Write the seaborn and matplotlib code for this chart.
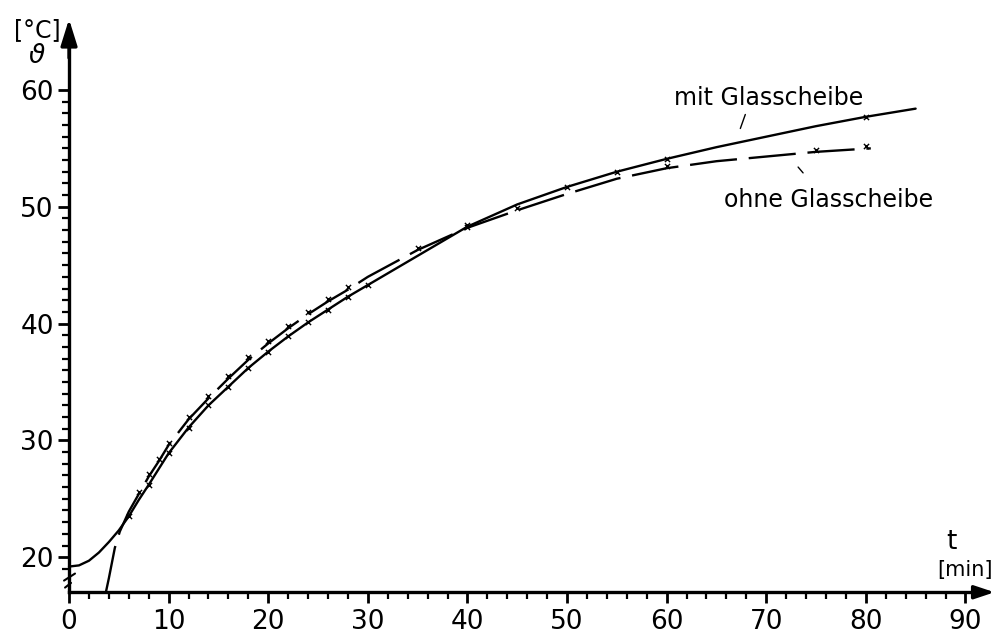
import numpy as np
import pandas as pd
import matplotlib
matplotlib.use("Agg")
import matplotlib.pyplot as plt
import seaborn as sns

# Temperaturverlauf
t_mit = [0, 1, 2, 3, 4, 5, 6, 7, 8, 10, 12, 14, 16, 18, 20, 22, 24, 26, 28,
         30, 35, 40, 45, 50, 55, 60, 65, 70, 75, 80, 85]
temp_mit = [19.2, 19.3, 19.7, 20.4, 21.3, 22.3, 23.5, 24.9, 26.2, 28.9, 31.1,
            33.0, 34.6, 36.2, 37.6, 38.9, 40.1, 41.2, 42.3, 43.3, 45.8, 48.3,
            50.2, 51.7, 53.0, 54.1, 55.1, 56.0, 56.9, 57.7, 58.4]

t_ohne = [3.7, 4.0, 4.3, 4.6, 5.1, 6, 7, 8, 9, 10, 12, 14, 16, 18, 20, 22, 24,
          26, 28, 30, 35, 40, 45, 50, 55, 60, 65, 70, 75, 80.5]
temp_ohne = [17.0, 18.2, 19.5, 20.8, 22.2, 23.9, 25.4, 26.9, 28.2, 29.6, 31.8,
             33.6, 35.3, 36.9, 38.3, 39.6, 40.8, 41.9, 42.9, 44.0, 46.3, 48.2,
             49.7, 51.1, 52.4, 53.3, 53.9, 54.3, 54.7, 55.0]

# Messpunkte (kleine Kreuze)
mess_t_mit = [6, 8, 10, 12, 14, 16, 18, 20, 22, 24, 26, 28, 30, 40, 50, 55, 60, 80]
mess_mit = [23.5, 26.2, 28.9, 31.1, 33.0, 34.6, 36.2, 37.6, 38.9, 40.1, 41.2,
            42.3, 43.3, 48.3, 51.7, 53.0, 54.1, 57.7]
mess_t_ohne = [7, 8, 9, 10, 12, 14, 16, 18, 20, 22, 24, 26, 28, 35, 40, 45, 60, 75, 80]
mess_ohne = [25.6, 27.1, 28.4, 29.8, 32.0, 33.8, 35.5, 37.1, 38.5, 39.8, 41.0,
             42.1, 43.1, 46.5, 48.4, 49.9, 53.5, 54.9, 55.2]

sns.set_style("white")
plt.rcParams['font.family'] = ['DejaVu Sans']
plt.rcParams['text.color'] = 'black'
plt.rcParams['xtick.color'] = 'black'
plt.rcParams['ytick.color'] = 'black'

fig = plt.figure(figsize=(9.97, 6.37), dpi=100)
ax = fig.add_axes([0, 0, 1, 1])
ax.set_xlim(-6.93, 93.17)
ax.set_ylim(13.17, 67.7)

df_mit = pd.DataFrame({'t': t_mit, 'T': temp_mit})
df_ohne = pd.DataFrame({'t': t_ohne, 'T': temp_ohne})
sns.lineplot(data=df_mit, x='t', y='T', ax=ax, color='black', lw=1.7, sort=False)
sns.lineplot(data=df_ohne, x='t', y='T', ax=ax, color='black', lw=1.7,
             sort=False, dashes=False, linestyle=(0, (20, 5)))
sns.scatterplot(x=mess_t_mit, y=mess_mit, ax=ax, marker='x', s=14, color='black', linewidth=1)
sns.scatterplot(x=mess_t_ohne, y=mess_ohne, ax=ax, marker='x', s=14, color='black', linewidth=1)

# Achsen
for s in ['top', 'right']:
    ax.spines[s].set_visible(False)
ax.spines['left'].set_position(('data', 0))
ax.spines['bottom'].set_position(('data', 17))
ax.spines['left'].set_bounds(17, 64)
ax.spines['bottom'].set_bounds(0, 91)
for s in ['left', 'bottom']:
    ax.spines[s].set_linewidth(2.4)
    ax.spines[s].set_color('black')
ax.annotate('', xy=(0, 66.3), xytext=(0, 62.5),
            arrowprops=dict(arrowstyle='-|>,head_length=1.6,head_width=0.5', color='black', lw=2.4))
ax.annotate('', xy=(93.2, 17), xytext=(90.5, 17),
            arrowprops=dict(arrowstyle='-|>,head_length=1.2,head_width=0.4', color='black', lw=2.4))

ax.set_xticks(np.arange(0, 91, 10))
ax.set_xticks(np.arange(0, 91, 2), minor=True)
ax.set_yticks([20, 30, 40, 50, 60])
ax.set_yticks(np.arange(19, 61, 1), minor=True)
ax.tick_params(axis='both', which='both', bottom=True, left=True, top=False, right=False)
ax.tick_params(axis='both', which='major', direction='out', length=8, width=2,
               labelsize=19, color='black', labelcolor='black')
ax.tick_params(axis='both', which='minor', direction='out', length=5, width=1.6, color='black')
ax.tick_params(axis='x', which='major', pad=4)
ax.tick_params(axis='y', which='major', pad=3)
ax.set_xlabel('')
ax.set_ylabel('')

# Achsenbruch
ax.plot([-0.5, 0.6], [18.0, 18.6], color='black', lw=1.5, clip_on=False)
ax.plot([-0.4, 0.2], [17.4, 17.8], color='black', lw=1.5, clip_on=False)

# Beschriftungen
ax.text(-3.2, 65.1, '[°C]', fontsize=17, ha='center', va='center')
ax.text(-3.2, 62.9, 'ϑ', fontsize=19, ha='center', va='center', style='italic')
ax.text(88.6, 21.3, 't', fontsize=19, ha='center', va='center')
ax.text(90.0, 18.9, '[min]', fontsize=15, ha='center', va='center')
ax.text(70.2, 59.3, 'mit Glasscheibe', fontsize=17, ha='center', va='center')
ax.plot([67.9, 67.4], [57.9, 56.7], color='black', lw=1)
ax.text(76.3, 50.6, 'ohne Glasscheibe', fontsize=17, ha='center', va='center')
ax.plot([73.2, 73.7], [53.4, 52.9], color='black', lw=1)

fig.savefig('out.png', dpi=100)
